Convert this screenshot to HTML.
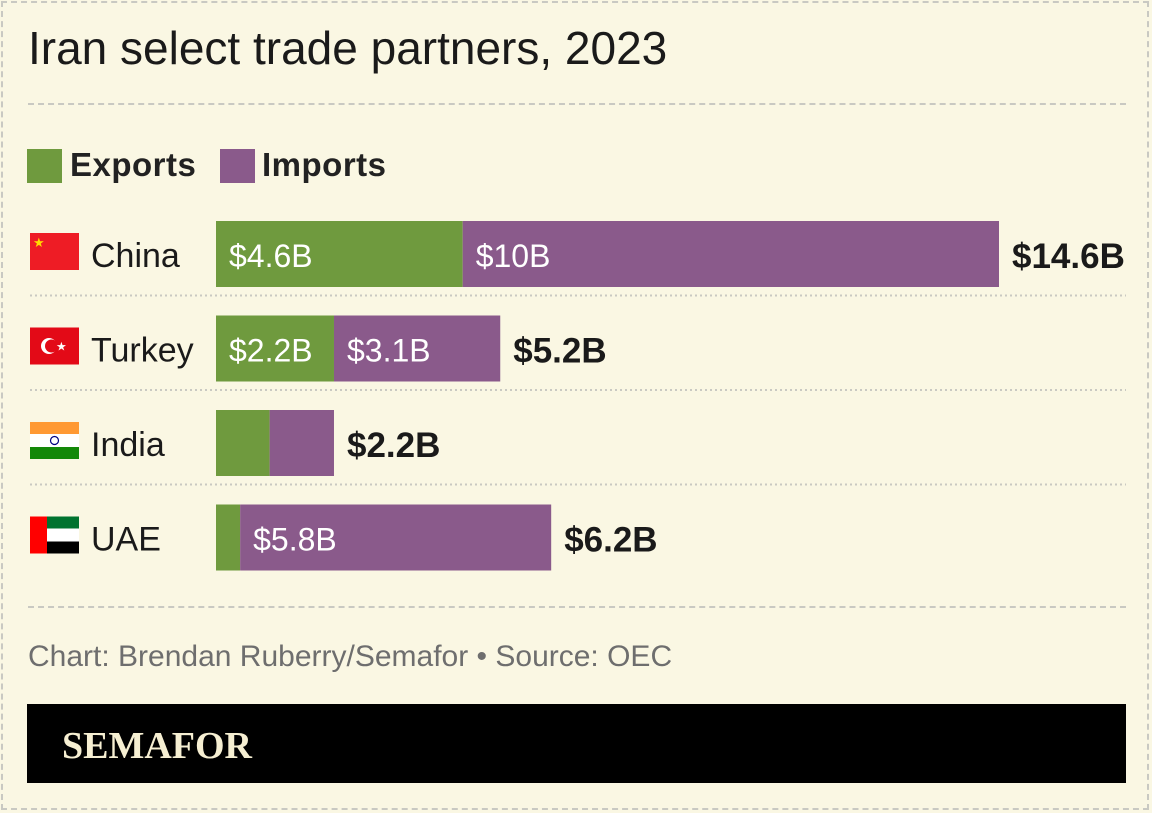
<!DOCTYPE html>
<html><head><meta charset="utf-8"><style>
body{margin:0;width:1152px;height:813px;background:#faf7e3;font-family:"Liberation Sans",sans-serif;overflow:hidden;position:relative}
.frame{position:absolute;left:1px;top:1px;width:1148px;height:809px;border:2px dashed #c9c9c2;box-sizing:border-box}
.t{position:absolute;white-space:nowrap}
</style></head><body>
<div class="frame"></div>
<div class="t" style="left:28px;top:21px;font-size:46px;color:#1a1a1a">Iran select trade partners, 2023</div>
<div style="position:absolute;left:28px;top:103px;width:1098px;border-top:2px dashed #c9c9c2"></div>
<div style="position:absolute;left:27px;top:149px;width:35px;height:34px;background:#6f9a3e"></div>
<div class="t" style="left:70px;top:146px;font-size:33px;font-weight:bold;color:#222;letter-spacing:0.5px">Exports</div>
<div style="position:absolute;left:220px;top:149px;width:35px;height:34px;background:#8a5a8b"></div>
<div class="t" style="left:262px;top:146px;font-size:33px;font-weight:bold;color:#222;letter-spacing:0.5px">Imports</div>
<svg id="chart" width="1152" height="813" style="position:absolute;left:0;top:0"></svg>
<div style="position:absolute;left:28px;top:606px;width:1098px;border-top:2px dashed #c9c9c2"></div>
<div class="t" style="left:28px;top:640px;font-size:30px;color:#6e6e6e">Chart: Brendan Ruberry/Semafor • Source: OEC</div>
<div style="position:absolute;left:27px;top:704px;width:1099px;height:79px;background:#000"></div>
<div class="t" style="left:62px;top:724px;font-family:'Liberation Serif',serif;font-weight:bold;font-size:38px;color:#f6efd2">SEMAFOR</div>
<script>
const countries=["China","Turkey","India","UAE"];
const exportsB=[4.6,2.2,1.0,0.45];
const importsB=[10,3.1,1.2,5.8];
const totals=["$14.6B","$5.2B","$2.2B","$6.2B"];
const expLabels=["$4.6B","$2.2B","",""];
const impLabels=["$10B","$3.1B","","$5.8B"];
const NS="http://www.w3.org/2000/svg";
const svg=document.getElementById('chart');
const x0=216,pxPer=783/14.6;
const xs=v=>x0+v*pxPer;
const rowY=i=>221+i*94.5;
const barH=66;
function mk(tag,a){const e=document.createElementNS(NS,tag);for(const k in a)e.setAttribute(k,a[k]);svg.appendChild(e);return e;}
function flag(i,y){
 const g=document.createElementNS(NS,'g');svg.appendChild(g);
 const add=(t,a)=>{const e=document.createElementNS(NS,t);for(const k in a)e.setAttribute(k,a[k]);g.appendChild(e);return e;};
 
 
 const fx=30,fy=y,w=49,h=37;
 if(i==0){add('rect',{x:fx,y:fy,width:w,height:h,fill:'#ee1c25'});add('text',{x:fx+3,y:fy+14,'font-size':13,fill:'#ffde00'}).textContent='★';}
 if(i==1){add('rect',{x:fx,y:fy,width:w,height:h,fill:'#e30a17'});add('circle',{cx:fx+19,cy:fy+18.5,r:8,fill:'#fff'});add('circle',{cx:fx+21.5,cy:fy+18.5,r:6.5,fill:'#e30a17'});add('text',{x:fx+26,y:fy+23,'font-size':12,fill:'#fff'}).textContent='★';}
 if(i==2){add('rect',{x:fx,y:fy,width:w,height:12,fill:'#ff9933'});add('rect',{x:fx,y:fy+12,width:w,height:13,fill:'#fff'});add('rect',{x:fx,y:fy+25,width:w,height:12,fill:'#138808'});add('circle',{cx:fx+24.5,cy:fy+18.5,r:4,fill:'none',stroke:'#000080','stroke-width':1.2});}
 if(i==3){add('rect',{x:fx,y:fy,width:w,height:12,fill:'#00732f'});add('rect',{x:fx,y:fy+12,width:w,height:13,fill:'#fff'});add('rect',{x:fx,y:fy+25,width:w,height:12,fill:'#000'});add('rect',{x:fx,y:fy,width:17,height:h,fill:'#ff0000'});}
}
countries.forEach((c,i)=>{
 const y=rowY(i);
 if(i>0){const l=mk('line',{x1:30,x2:1126,y1:y-20,y2:y-20,stroke:'#c9c9c2','stroke-width':2,'stroke-dasharray':'2 3'});
  }
 flag(i,y+12);
 const lab=mk('text',{x:91,y:y+46,'font-size':34,fill:'#1a1a1a','font-family':'Liberation Sans'});lab.textContent=c;
 
 const e=mk('rect',{x:x0,y:y,width:xs(exportsB[i])-x0,height:barH,fill:'#6f9a3e'});
 
 const m=mk('rect',{x:xs(exportsB[i]),y:y,width:xs(exportsB[i]+importsB[i])-xs(exportsB[i]),height:barH,fill:'#8a5a8b'});
 
 if(expLabels[i]){const t=mk('text',{x:x0+13,y:y+46,'font-size':32,fill:'#fff'});t.textContent=expLabels[i];
  }
 if(impLabels[i]){const t=mk('text',{x:xs(exportsB[i])+13,y:y+46,'font-size':32,fill:'#fff'});t.textContent=impLabels[i];
  }
 const tt=mk('text',{x:xs(exportsB[i]+importsB[i])+13,y:y+47,'font-size':35,'font-weight':'bold',fill:'#1a1a1a'});tt.textContent=totals[i];
 
});
</script>
</body></html>
